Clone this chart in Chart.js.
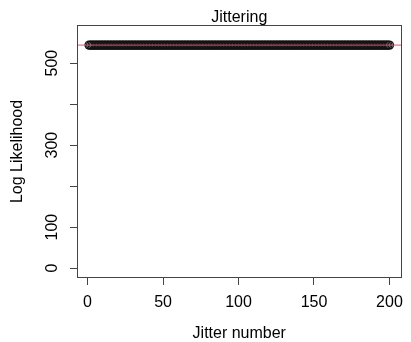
<!DOCTYPE html>
<html>
<head>
<meta charset="utf-8">
<script src="https://cdn.jsdelivr.net/npm/chart.js@4.4.1/dist/chart.umd.min.js"></script>
<style>
  html, body { margin: 0; padding: 0; background: #fff; }
  #wrap { width: 411px; height: 342px; }
</style>
</head>
<body>
<div id="wrap"><canvas id="jitterChart" width="411" height="342"></canvas></div>
<script>
// jitter runs 1..200 and the log likelihood of each run (all sit on the same value)
var JITTER_NUMBERS = [];
for (var i = 1; i <= 200; i++) JITTER_NUMBERS.push(i);

var LOG_LIKELIHOOD = [
    544, 544, 544, 544, 544, 544, 544, 544, 544, 544, 544, 544, 544, 544, 544, 544, 544, 544, 544, 544,
    544, 544, 544, 544, 544, 544, 544, 544, 544, 544, 544, 544, 544, 544, 544, 544, 544, 544, 544, 544,
    544, 544, 544, 544, 544, 544, 544, 544, 544, 544, 544, 544, 544, 544, 544, 544, 544, 544, 544, 544,
    544, 544, 544, 544, 544, 544, 544, 544, 544, 544, 544, 544, 544, 544, 544, 544, 544, 544, 544, 544,
    544, 544, 544, 544, 544, 544, 544, 544, 544, 544, 544, 544, 544, 544, 544, 544, 544, 544, 544, 544,
    544, 544, 544, 544, 544, 544, 544, 544, 544, 544, 544, 544, 544, 544, 544, 544, 544, 544, 544, 544,
    544, 544, 544, 544, 544, 544, 544, 544, 544, 544, 544, 544, 544, 544, 544, 544, 544, 544, 544, 544,
    544, 544, 544, 544, 544, 544, 544, 544, 544, 544, 544, 544, 544, 544, 544, 544, 544, 544, 544, 544,
    544, 544, 544, 544, 544, 544, 544, 544, 544, 544, 544, 544, 544, 544, 544, 544, 544, 544, 544, 544,
    544, 544, 544, 544, 544, 544, 544, 544, 544, 544, 544, 544, 544, 544, 544, 544, 544, 544, 544, 544
];

// reference line (abline) value
var REF_LEVEL = [544];

var X_TICKS = [0, 50, 100, 150, 200];
var Y_TICKS = [0, 100, 200, 300, 400, 500];
var Y_TICK_LABELS = ['0', '100', '', '300', '', '500'];

var X_RANGE = [-7, 208];
var Y_RANGE = [-24, 593];

var FONT = '"Liberation Sans", Arial, Helvetica, sans-serif';

var points = JITTER_NUMBERS.map(function (n, idx) {
    return { x: n, y: LOG_LIKELIHOOD[idx] };
});

var frameAndTitle = {
    id: 'frameAndTitle',
    afterDraw: function (chart) {
        var a = chart.chartArea;
        var c = chart.ctx;
        c.save();
        c.strokeStyle = '#444';
        c.lineWidth = 1;
        c.strokeRect(Math.round(a.left) + 0.5, Math.round(a.top) + 0.5,
            Math.round(a.right - a.left) - 1, Math.round(a.bottom - a.top) - 1);
        c.fillStyle = '#000';
        c.font = '16px ' + FONT;
        c.textAlign = 'center';
        c.textBaseline = 'alphabetic';
        c.fillText('Jittering', (a.left + a.right) / 2, a.top - 3);
        c.restore();
    }
};

var ctx = document.getElementById('jitterChart').getContext('2d');
window.myChart = new Chart(ctx, {
    type: 'scatter',
    data: {
        datasets: [{
                label: 'reference',
                data: [{ x: X_RANGE[0], y: REF_LEVEL[0] }, { x: X_RANGE[1], y: REF_LEVEL[0] }],
                showLine: true,
                borderColor: '#E0536B',
                borderWidth: 1,
                pointRadius: 0,
            },
            {
                label: 'log likelihood',
                data: points,
                pointRadius: 4,
                pointBorderWidth: 1.4,
                pointBorderColor: '#111',
                pointBackgroundColor: 'rgba(0,0,0,0)',
                showLine: false,
            }
        ]
    },
    options: {
        responsive: false,
        animation: false,
        layout: { padding: { top: 25, right: 3, left: 0, bottom: 0 } },
        plugins: {
            legend: { display: false },
            tooltip: { enabled: false },
        },
        scales: {
            x: {
                type: 'linear',
                min: X_RANGE[0],
                max: X_RANGE[1],
                afterFit: function (s) { s.height = 64; },
                afterBuildTicks: function (s) {
                    s.ticks = X_TICKS.map(function (v) { return { value: v }; });
                },
                border: { display: false },
                grid: { drawOnChartArea: false, drawTicks: true, tickLength: 7, color: '#444' },
                ticks: {
                    color: '#000',
                    padding: 8,
                    maxRotation: 0,
                    font: { family: FONT, size: 16 },
                },
                title: {
                    display: true,
                    text: 'Jitter number',
                    color: '#000',
                    font: { family: FONT, size: 16, lineHeight: 1 },
                    padding: 0,
                }
            },
            y: {
                min: Y_RANGE[0],
                max: Y_RANGE[1],
                afterFit: function (s) { s.width = 77; },
                afterBuildTicks: function (s) {
                    s.ticks = Y_TICKS.map(function (v) { return { value: v }; });
                },
                border: { display: false },
                grid: { drawOnChartArea: false, drawTicks: true, tickLength: 7, color: '#444' },
                ticks: {
                    color: '#000',
                    padding: 4,
                    minRotation: 90,
                    maxRotation: 90,
                    crossAlign: 'center',
                    font: { family: FONT, size: 16 },
                    callback: function (v, idx) { return Y_TICK_LABELS[idx]; }
                },
                title: {
                    display: true,
                    text: 'Log Likelihood',
                    color: '#000',
                    font: { family: FONT, size: 16, lineHeight: 1 },
                    padding: 10,
                }
            }
        }
    },
    plugins: [frameAndTitle]
});
</script>
</body>
</html>
